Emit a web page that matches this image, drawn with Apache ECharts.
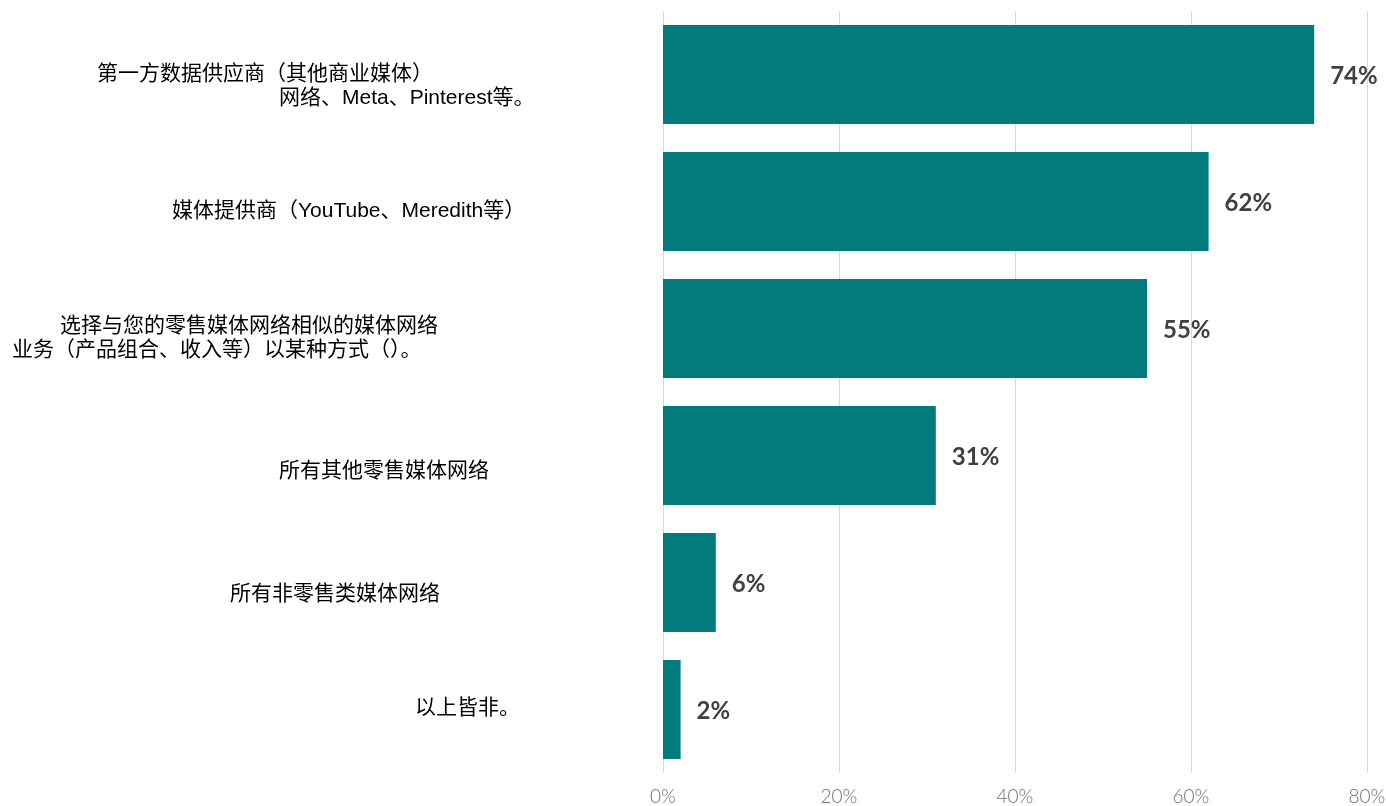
<!DOCTYPE html>
<html>
<head>
<meta charset="utf-8">
<script src="https://cdn.jsdelivr.net/npm/echarts@6/dist/echarts.min.js"></script>
<style>
  html, body { margin: 0; padding: 0; background: #fff; }
  #chart { width: 1386px; height: 806px; }
</style>
</head>
<body>
<div id="chart"></div>
<script>
// Survey answers, top to bottom
const categories = [
  '第一方数据供应商（其他商业媒体）\n网络、Meta、Pinterest等。',
  '媒体提供商（YouTube、Meredith等）',
  '选择与您的零售媒体网络相似的媒体网络\n业务（产品组合、收入等）以某种方式（）。',
  '所有其他零售媒体网络',
  '所有非零售类媒体网络',
  '以上皆非。'
];
const shares = [74, 62, 55, 31, 6, 2];
const xTicks = [0, 20, 40, 60, 80];

// Label layout: left start of every text line, and vertical nudge per answer
const lineStarts = [[97, 279], [172], [60, 12], [279], [230], [415]];
const labelShift = [12, 10, 10, 16, 12, -1];

// One rich style per text line; top/bottom padding moves the line without changing its height
const rich = {};
lineStarts.forEach((starts, i) => {
  const d = labelShift[i];
  starts.forEach((x, j) => {
    rich['l' + i + 'n' + j] = {
      padding: [d > 0 ? 2 * d : 0, 0, d < 0 ? -2 * d : 0, x],
      fontSize: 21,
      lineHeight: 24,
      color: '#000000',
      fontFamily: '"Liberation Sans", "Noto Sans CJK SC", sans-serif'
    };
  });
});

const chart = echarts.init(document.getElementById('chart'), null, { renderer: 'canvas' });
chart.setOption({
  animation: false,
  backgroundColor: '#ffffff',
  grid: { left: 663, right: 19, top: 11, bottom: 33, containLabel: false, outerBoundsMode: 'none' },
  xAxis: {
    type: 'value',
    min: xTicks[0],
    max: xTicks[xTicks.length - 1],
    interval: xTicks[1] - xTicks[0],
    axisLine: { show: false },
    axisTick: { show: false },
    splitLine: { show: true, lineStyle: { color: '#d9d9d9', width: 1 } },
    axisLabel: {
      formatter: '{value}%',
      color: '#6f6f6f',
      fontSize: 19,
      fontWeight: 300,
      fontFamily: 'Lato, "Open Sans", sans-serif',
      margin: 14
    }
  },
  yAxis: {
    type: 'category',
    inverse: true,
    data: categories,
    axisLine: { show: false },
    axisTick: { show: false },
    axisLabel: {
      margin: 663,
      align: 'left',
      verticalAlign: 'middle',
      interval: 0,
      rich: rich,
      formatter: (value, index) =>
        value.split('\n').map((line, j) => '{l' + index + 'n' + j + '|' + line + '}').join('\n')
    }
  },
  series: [{
    type: 'bar',
    data: shares,
    barCategoryGap: '22%',
    itemStyle: { color: '#017B7D' },
    label: {
      show: true,
      position: 'right',
      distance: 16,
      offset: [0, 2],
      formatter: '{c}%',
      color: '#404040',
      fontSize: 24,
      fontWeight: 'bold',
      fontFamily: 'Lato, "Open Sans", sans-serif'
    }
  }]
});
</script>
</body>
</html>
